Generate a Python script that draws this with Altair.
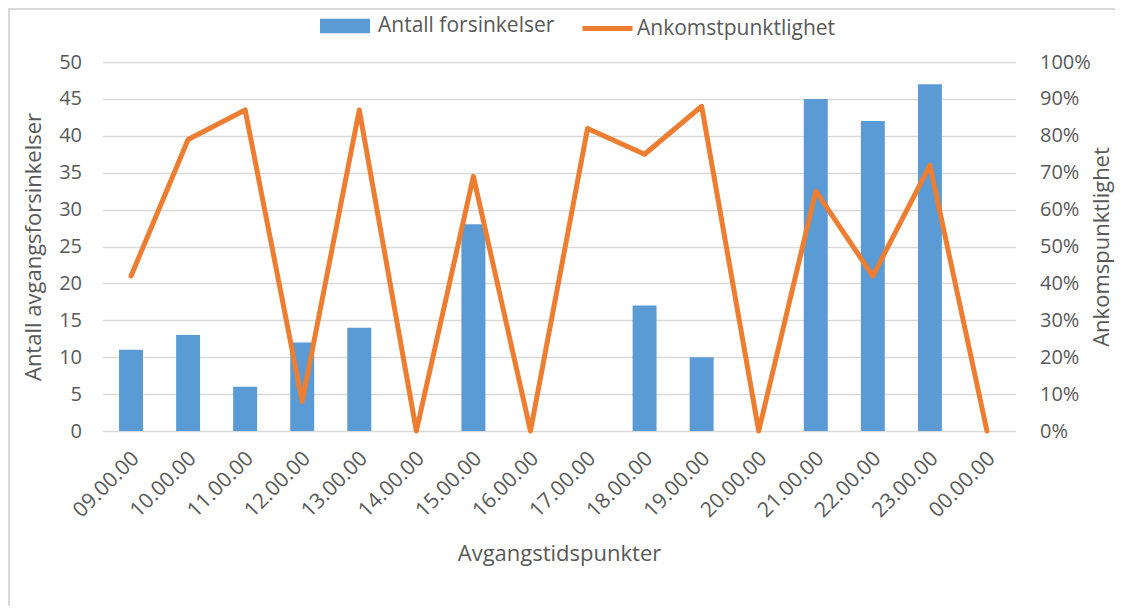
import altair as alt
import pandas as pd

categories = ["09.00.00", "10.00.00", "11.00.00", "12.00.00", "13.00.00", "14.00.00",
              "15.00.00", "16.00.00", "17.00.00", "18.00.00", "19.00.00", "20.00.00",
              "21.00.00", "22.00.00", "23.00.00", "00.00.00"]
delays = [11, 13, 6, 12, 14, 0, 28, 0, 0, 17, 10, 0, 45, 42, 47, 0]
punctuality = [0.42, 0.79, 0.87, 0.08, 0.87, 0.0, 0.69, 0.0, 0.82, 0.75, 0.88, 0.0,
               0.65, 0.42, 0.72, 0.0]
bar_series = "Antall forsinkelser"
line_series = "Ankomstpunktlighet"

df = pd.DataFrame({
    "tid": categories,
    "delays": delays,
    "punct": punctuality,
    "s1": bar_series,
    "s2": line_series,
})

FONT = "Open Sans"
GRAY = "#595959"
W, H = 913, 369
PL, PT, PB = 94.5, 54, 175
PR = 1107 - PL - W

x_enc = alt.X(
    "tid:N", sort=categories,
    scale=alt.Scale(paddingInner=0.58, paddingOuter=0.29),
    axis=alt.Axis(
        title="Avgangstidspunkter", labelAngle=-45, labelAlign="right", labelBaseline="middle",
        labelPadding=24, labelOffset=5, ticks=False, domain=False, grid=False,
        labelFont=FONT, labelFontSize=21, labelColor=GRAY,
        titleFont=FONT, titleFontSize=22, titleFontWeight="normal", titleColor=GRAY,
        titleX=W / 2, titleY=122, titleBaseline="middle", titleAlign="center",
    ),
)

bars = alt.Chart(df).mark_bar().encode(
    x=x_enc,
    y=alt.Y(
        "delays:Q", scale=alt.Scale(domain=[0, 50], nice=False),
        axis=alt.Axis(
            title="Antall avgangsforsinkelser", values=list(range(0, 55, 5)),
            grid=True, gridColor="#D9D9D9", gridWidth=1.3, ticks=False, domain=False,
            labelFont=FONT, labelFontSize=20, labelColor=GRAY, labelPadding=21,
            titleFont=FONT, titleFontSize=22, titleFontWeight="normal", titleColor=GRAY,
            titleX=-69.5, titleY=H / 2, titleAngle=270, titleBaseline="middle", titleAlign="center",
        ),
    ),
    fill=alt.Fill(
        "s1:N", scale=alt.Scale(domain=[bar_series], range=["#5B9BD5"]),
        legend=alt.Legend(
            orient="none", legendX=217.5, legendY=-61, title=None, padding=0,
            symbolType="M-1,-0.29L1,-0.29L1,0.29L-1,0.29Z", symbolSize=2500,
            symbolStrokeWidth=0, labelFont=FONT, labelFontSize=21, labelColor=GRAY,
            labelOffset=8, labelLimit=0,
        ),
    ),
)

line = alt.Chart(df).mark_line(strokeWidth=5, strokeJoin="round", strokeCap="round").encode(
    x=x_enc,
    y=alt.Y(
        "punct:Q", scale=alt.Scale(domain=[0, 1], nice=False),
        axis=alt.Axis(
            orient="right", title="Ankomspunktlighet", format=".0%",
            values=[i / 10 for i in range(11)],
            grid=False, ticks=False, domain=False,
            labelFont=FONT, labelFontSize=20, labelColor=GRAY, labelPadding=24,
            titleFont=FONT, titleFontSize=22, titleFontWeight="normal", titleColor=GRAY,
            titleX=86, titleY=H / 2, titleAngle=270, titleBaseline="middle", titleAlign="center",
        ),
    ),
    stroke=alt.Stroke(
        "s2:N", scale=alt.Scale(domain=[line_series], range=["#ED7D31"]),
        legend=alt.Legend(
            orient="none", legendX=477.5, legendY=-61, title=None, padding=0,
            symbolType="stroke", symbolSize=2500, symbolStrokeWidth=5,
            labelFont=FONT, labelFontSize=21, labelColor=GRAY, labelOffset=2, labelLimit=0,
        ),
    ),
)

frame = alt.Chart(df).mark_rect(filled=False, stroke="#D9D9D9", strokeWidth=2, clip=False).encode(
    x=alt.value(-PL + 1), x2=alt.value(W + PR + 30), y=alt.value(-PT + 1), y2=alt.value(H + PB + 30)
)

chart = alt.layer(frame, bars, line).resolve_scale(y="independent").properties(
    width=W, height=H,
    padding={"left": PL, "top": PT, "right": PR, "bottom": PB},
    autosize=alt.AutoSizeParams(type="none"),
).configure_view(stroke=None)

chart.save("out.html", embed_options={"renderer": "svg", "actions": False})
